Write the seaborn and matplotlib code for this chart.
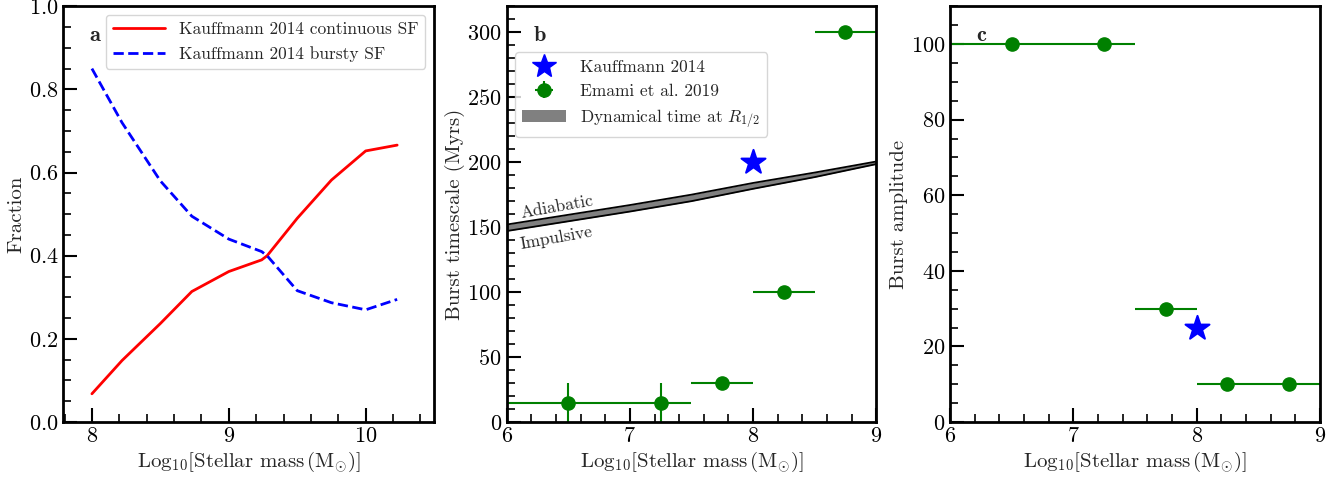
import numpy as np
import pandas as pd
import matplotlib
matplotlib.use("Agg")
import matplotlib.pyplot as plt
import seaborn as sns
from matplotlib.ticker import MultipleLocator
from matplotlib.patches import Patch

# ---- data ----
mass_k14 = [8.0, 8.22, 8.5, 8.73, 9.0, 9.24, 9.28, 9.5, 9.75, 10.0, 10.23]
frac_continuous = [0.068, 0.148, 0.237, 0.314, 0.362, 0.390, 0.400, 0.490, 0.582, 0.652, 0.666]
frac_bursty = [0.850, 0.720, 0.580, 0.495, 0.440, 0.410, 0.400, 0.316, 0.287, 0.270, 0.295]

emami_mass = [6.5, 7.25, 7.75, 8.25, 8.75]
emami_mass_err = [0.5, 0.25, 0.25, 0.25, 0.25]
emami_timescale = [15, 15, 30, 100, 300]
emami_timescale_err = [15, 15, 0, 0, 0]
emami_amplitude = [100, 100, 30, 10, 10]

k14_mass = [8.0]
k14_timescale = [200]
k14_amplitude = [25]

dyn_mass = [6.0, 6.5, 7.0, 7.5, 8.0, 8.5, 9.0]
dyn_upper = [152, 159.5, 167, 175, 184, 192, 200.5]
dyn_lower = [147, 154.5, 162, 170, 179.5, 188.5, 198.5]

sns.set_style("ticks")
plt.rcParams['font.family'] = 'serif'
plt.rcParams['font.serif'] = ['cmr10', 'DejaVu Serif']
plt.rcParams['mathtext.fontset'] = 'cm'
plt.rcParams['axes.formatter.use_mathtext'] = True
plt.rcParams['axes.unicode_minus'] = False

xlabel = r'Log$_{10}$[Stellar mass$\,(\mathrm{M}_{\odot})$]'

fig = plt.figure(figsize=(13.44, 4.78), dpi=100)
axa = fig.add_axes([0.047, 0.117, 0.276, 0.870])
axb = fig.add_axes([0.377, 0.117, 0.275, 0.870])
axc = fig.add_axes([0.707, 0.117, 0.275, 0.870])

def style_axis(ax):
    for s in ax.spines.values():
        s.set_linewidth(2.0)
        s.set_color('black')
    ax.tick_params(which='both', direction='in', top=False, right=False,
                   labelsize=16, colors='black')
    ax.tick_params(which='major', length=10, width=1.5)
    ax.tick_params(which='minor', length=6, width=1.2)

# ---- panel a ----
sns.lineplot(x=mass_k14, y=frac_continuous, color='red', lw=2,
             label='Kauffmann 2014 continuous SF', ax=axa)
sns.lineplot(x=mass_k14, y=frac_bursty, color='blue', lw=2, linestyle='--',
             label='Kauffmann 2014 bursty SF', ax=axa)
axa.set_xlim(7.79, 10.5)
axa.set_ylim(0, 1)
axa.xaxis.set_major_locator(MultipleLocator(1))
axa.xaxis.set_minor_locator(MultipleLocator(0.2))
axa.yaxis.set_major_locator(MultipleLocator(0.2))
axa.yaxis.set_minor_locator(MultipleLocator(0.05))
axa.set_xlabel(xlabel, fontsize=15, labelpad=2)
axa.set_ylabel('Fraction', fontsize=15, labelpad=2)
axa.legend(loc='upper right', fontsize=12.5, handlelength=3)
axa.text(0.07, 0.93, r'$\mathbf{a}$', transform=axa.transAxes, fontsize=16,
         va='center')
style_axis(axa)

# ---- panel b ----
axb.fill_between(dyn_mass, dyn_lower, dyn_upper, color='grey', lw=0)
axb.plot(dyn_mass, dyn_upper, color='black', lw=1.3)
axb.plot(dyn_mass, dyn_lower, color='black', lw=1.3)
sns.scatterplot(x=k14_mass, y=k14_timescale, marker='*', s=330, color='blue',
                edgecolor='blue', ax=axb, zorder=5)
axb.errorbar(emami_mass, emami_timescale, xerr=emami_mass_err,
             yerr=emami_timescale_err, fmt='o', color='green', ms=9.5,
             elinewidth=1.5, capsize=0)
axb.set_xlim(6, 9)
axb.set_ylim(0, 320)
axb.xaxis.set_major_locator(MultipleLocator(1))
axb.xaxis.set_minor_locator(MultipleLocator(0.2))
axb.yaxis.set_major_locator(MultipleLocator(50))
axb.yaxis.set_minor_locator(MultipleLocator(10))
axb.set_xlabel(xlabel, fontsize=15, labelpad=2)
axb.set_ylabel('Burst timescale (Myrs)', fontsize=15, labelpad=2)
axb.text(6.12, 157, 'Adiabatic', rotation=10, fontsize=12.5, rotation_mode='anchor')
axb.text(6.12, 133, 'Impulsive', rotation=10, fontsize=12.5, rotation_mode='anchor')
axb.text(0.07, 0.93, r'$\mathbf{b}$', transform=axb.transAxes, fontsize=16,
         va='center')
h_star = plt.Line2D([], [], marker='*', color='blue', ls='none', ms=18)
h_em = axb.containers[-1]
h_dyn = Patch(facecolor='grey', edgecolor='none')
axb.legend([h_star, h_em, h_dyn],
           ['Kauffmann 2014', 'Emami et al. 2019', r'Dynamical time at $R_{1/2}$'],
           loc='upper left', bbox_to_anchor=(0.0, 0.91), fontsize=12.5,
           handlelength=2.5)
style_axis(axb)

# ---- panel c ----
axc.errorbar(emami_mass, emami_amplitude, xerr=emami_mass_err, fmt='o',
             color='green', ms=9.5, elinewidth=1.5, capsize=0)
sns.scatterplot(x=k14_mass, y=k14_amplitude, marker='*', s=330, color='blue',
                edgecolor='blue', ax=axc, zorder=5)
axc.set_xlim(6, 9)
axc.set_ylim(0, 110)
axc.xaxis.set_major_locator(MultipleLocator(1))
axc.xaxis.set_minor_locator(MultipleLocator(0.2))
axc.yaxis.set_major_locator(MultipleLocator(20))
axc.yaxis.set_minor_locator(MultipleLocator(5))
axc.set_xlabel(xlabel, fontsize=15, labelpad=2)
axc.set_ylabel('Burst amplitude', fontsize=15, labelpad=2)
axc.text(0.07, 0.93, r'$\mathbf{c}$', transform=axc.transAxes, fontsize=16,
         va='center')
style_axis(axc)

fig.savefig('out.png', dpi=100)
